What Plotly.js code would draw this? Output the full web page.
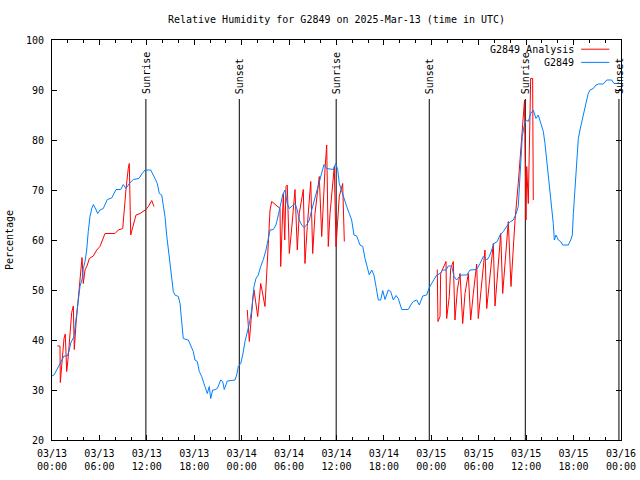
<!DOCTYPE html>
<html>
<head>
<meta charset="utf-8">
<script src="https://cdn.plot.ly/plotly-3.0.1.min.js"></script>
<style>html,body{margin:0;padding:0;background:#fff;}#chart{width:640px;height:480px;}</style>
</head>
<body>
<div id="chart"></div>
<script>
// Hours since 2025-03-13 00:00 UTC
const obsHours = [0.00,0.25,0.59,0.89,1.23,1.52,1.94,2.19,2.37,2.78,3.13,3.33,3.54,3.83,3.96,4.18,4.39,4.59,4.81,5.02,5.23,5.53,5.78,6.07,6.49,7.00,7.55,7.85,8.10,8.69,9.02,9.36,9.78,10.29,11.01,11.35,11.77,12.49,12.74,13.03,13.32,13.58,13.88,14.08,14.30,14.51,14.72,14.93,15.15,15.35,15.56,15.98,16.20,16.41,16.61,17.25,17.55,17.88,18.09,18.39,18.64,18.94,19.23,19.65,19.90,20.08,20.33,20.50,20.92,21.35,21.60,21.80,22.18,23.16,23.37,23.57,23.88,24.13,24.42,24.64,24.97,25.27,25.56,25.81,26.10,26.41,26.74,27.08,27.37,27.59,28.00,28.34,28.64,28.94,29.19,29.48,29.77,30.03,30.46,30.75,31.04,31.29,31.60,31.89,32.23,32.56,32.86,33.15,33.49,33.82,34.13,34.42,34.76,35.60,35.90,36.15,36.35,36.66,36.95,37.29,37.62,37.92,38.21,38.56,38.97,39.32,39.61,39.90,40.15,40.45,40.74,41.00,41.29,41.59,41.85,42.14,42.35,42.55,42.86,43.19,43.53,43.82,44.25,45.09,45.39,45.72,46.15,46.48,46.91,47.41,47.74,48.05,48.34,48.68,49.10,49.44,49.86,50.15,50.58,50.87,51.21,51.54,51.84,52.48,52.89,53.74,54.16,54.58,55.01,55.34,55.64,55.93,56.35,56.69,57.11,57.54,57.87,58.37,58.71,59.00,59.13,59.31,59.51,59.73,59.98,60.27,60.57,60.90,61.24,61.53,61.75,61.96,62.17,62.38,62.60,62.80,63.02,63.23,63.43,63.56,63.77,64.07,64.37,64.62,65.33,65.64,65.84,65.97,66.18,66.39,66.60,66.81,67.03,67.23,67.44,67.66,67.86,68.08,68.49,68.84,69.13,69.76,70.19,70.82,71.11,71.53,71.78];
const obsValues = [32.8,33,34,35,36,36.8,36.8,38,39.4,40.7,45.3,48.3,50.7,52.3,54.3,55.7,58,61.7,64.7,66.2,67.1,66.2,65.3,66,66.3,68.1,68.4,69.3,70.1,70.1,71.1,70.3,71.3,72.1,72.3,73.2,74,74,73.3,72.3,71.3,69.3,69,66.7,64.7,61,58,55.3,53,49.7,49,48.7,47.3,43.3,40.3,40,39,37.7,36,35.7,33.7,32.7,31.3,29.3,30.7,28.3,30,30,30.3,32,31.7,30.1,31.8,32,33,34.7,35.3,37,39.7,41,43.3,46,50.7,52.3,53,54.7,56.1,58,60,62,62.1,63,65,67.3,69,70,67.3,66.3,66.8,67.3,66,64,63,62.5,63,64,66,67.7,69.3,71.3,73.3,75.1,74.3,74.1,75.3,74.1,71.3,69.7,68.3,66.7,65.3,64,61,60.8,59,58.7,56.3,54.7,53,54,53,50.7,48,48,49.9,48.1,49,50,49.7,48,48.9,48.3,46.1,46.1,47,47.7,48,47,48.8,49,50.5,51.3,52,53,53.3,54,54,54.8,54.8,52.7,52,52.7,53,53,54,54.1,55.3,56.7,56,56.7,58,59.3,59.7,61,61.7,62.7,63.5,64,65.2,66.7,70.7,76.7,80.7,82.7,84,83.7,85.3,86,84.3,85,84,83,81.7,79.3,76,73.3,70.7,67.3,63.3,60,61,60,59.7,59,59,60,61,65.3,70.7,76.7,80.3,82,83.7,85.3,86.7,88,89.3,90,90.3,91,91.2,91.2,92,92,91.3,91.3,91.7];

// Analysis (null = gap between analysis windows)
const anaHours = [0.67,1.01,1.05,1.23,1.35,1.52,1.68,1.86,2.06,2.28,2.49,2.70,2.82,3.04,3.20,3.45,3.63,3.80,3.96,4.18,4.47,4.72,5.23,5.66,6.07,6.42,6.71,7.97,8.39,8.95,9.11,9.36,9.65,9.78,9.96,10.09,10.29,10.63,11.14,11.89,12.19,12.62,12.91,
  18.0,
  24.71,24.97,25.40,25.56,26.03,26.41,26.57,26.95,27.37,27.59,27.80,28.85,28.94,29.27,29.45,29.61,29.77,30.03,30.37,30.75,31.04,31.29,31.80,32.01,32.30,32.74,32.99,33.28,33.82,34.13,34.54,34.76,34.96,35.18,35.72,35.94,36.35,36.78,36.99,
  42.0,
  48.75,48.84,49.10,49.18,49.86,49.94,50.27,50.45,50.78,50.99,51.29,51.63,51.97,52.26,52.68,52.98,53.31,53.74,53.94,54.37,54.79,55.01,55.42,55.84,56.06,56.47,56.78,57.03,57.45,57.74,58.08,58.37,58.59,59.00,59.13,59.43,59.64,59.79,59.98,60.07,60.27,60.48,60.57,60.82,60.90];
const anaValues = [38.8,38.8,31.5,35.3,37.2,40.3,41.2,33.7,36.7,41.2,45.5,46.8,38.1,43.3,46.1,52,55,56.5,51.3,54,55,56.3,56.8,58,58.7,60.1,61.3,61.3,62,62.3,66,70.1,74.3,75.3,61,62,63,65,65.3,66.1,66.7,67.9,66.7,
  null,
  46,39.7,48,50,44.7,51.3,50,46.7,59.3,66,67.7,66.3,54.7,69.3,60,70.7,71,57.3,63,70.1,58,65.3,70.1,55.3,62.7,71.7,57.3,65.3,72.7,60.7,74,79,58.7,65.3,74.7,58.7,68.7,71.3,59.7,
  null,
  54.1,43.7,44.7,53.3,55.7,44.3,48.7,54.3,55.7,44,50,53.3,43.3,49.3,53.3,44,49.3,55.2,44.3,50.7,58,46.3,52.7,59.3,46.8,54.7,61.3,49.3,58.7,63.7,50.7,60,64,71.3,74,82,86,88,64,74.7,67.3,86,92.3,92.3,68];

const sunHours = [11.88, 23.70, 35.96, 47.74, 59.89, 71.74];
const sunLabels = ["Sunrise","Sunset","Sunrise","Sunset","Sunrise","Sunset"];

const tickHours = [0,6,12,18,24,30,36,42,48,54,60,66,72];
const tickLabels = ["03/13<br>00:00","03/13<br>06:00","03/13<br>12:00","03/13<br>18:00","03/14<br>00:00","03/14<br>06:00","03/14<br>12:00","03/14<br>18:00","03/15<br>00:00","03/15<br>06:00","03/15<br>12:00","03/15<br>18:00","03/16<br>00:00"];

const legendNames = ["G2849 Analysis", "G2849"];
const colors = ["#ff0000", "#0080ff"];

function toDate(h) {
  const ms = Date.UTC(2025, 2, 13) + Math.round(h * 3600000);
  return new Date(ms).toISOString().replace('T', ' ').replace('Z', '');
}

const FONT = {family: "DejaVu Sans Mono, Liberation Mono, monospace", size: 10, color: "#000"};

const traces = [
  {x: anaHours.map(toDate), y: anaValues, type: 'scatter', mode: 'lines', name: legendNames[0],
   line: {color: colors[0], width: 1}, connectgaps: false, showlegend: false},
  {x: obsHours.map(toDate), y: obsValues, type: 'scatter', mode: 'lines', name: legendNames[1],
   line: {color: colors[1], width: 1}, showlegend: false}
];

const shapes = sunHours.map(h => ({
  type: 'line', xref: 'x', yref: 'y', x0: toDate(h), x1: toDate(h), y0: 20, y1: 88.2,
  line: {color: '#000', width: 1}, layer: 'below'
}));
const annotations = sunHours.map((h, i) => ({
  xref: 'x', yref: 'y', x: toDate(h), y: 88.2, text: sunLabels[i], textangle: -90,
  showarrow: false, xanchor: 'center', yanchor: 'bottom', yshift: 3, font: FONT
}));

// manual gnuplot-style key (text left, sample right)
const legendY = [0.977, 0.944];
legendNames.forEach((n, i) => {
  annotations.push({xref: 'paper', yref: 'paper', x: 0.921, y: legendY[i], text: n, showarrow: false,
    xanchor: 'right', yanchor: 'middle', font: FONT});
  shapes.push({type: 'line', xref: 'paper', yref: 'paper', x0: 0.930, x1: 0.9795, y0: legendY[i], y1: legendY[i],
    line: {color: colors[i], width: 1}});
});

const layout = {
  width: 640, height: 480,
  margin: {l: 52, r: 19, t: 40, b: 40, pad: 0},
  paper_bgcolor: '#fff', plot_bgcolor: '#fff',
  font: FONT,
  showlegend: false,
  title: {text: "Relative Humidity for G2849 on 2025-Mar-13 (time in UTC)", font: FONT,
    x: 0.5, xref: 'paper', y: 1 - 19/480, yanchor: 'middle'},
  xaxis: {
    type: 'date', range: [toDate(0), toDate(72)],
    tickmode: 'array', tickvals: tickHours.map(toDate), ticktext: tickLabels,
    ticks: 'inside', ticklen: 5, tickcolor: '#000', tickwidth: 1,
    minor: {tickmode: 'linear', tick0: toDate(0), dtick: 7200000, ticks: 'inside', ticklen: 3, tickcolor: '#000', showgrid: false},
    showline: true, linecolor: '#000', linewidth: 1, mirror: 'allticks',
    showgrid: false, zeroline: false, tickfont: FONT, ticklabelstandoff: 4
  },
  yaxis: {
    range: [20, 100], tickmode: 'linear', tick0: 20, dtick: 10,
    ticks: 'inside', ticklen: 5, tickcolor: '#000', tickwidth: 1,
    showline: true, linecolor: '#000', linewidth: 1, mirror: 'allticks',
    showgrid: false, zeroline: false, tickfont: FONT, ticklabelstandoff: 5,
    title: {text: "Percentage", font: FONT, standoff: 10}
  },
  shapes: shapes,
  annotations: annotations
};

Plotly.newPlot('chart', traces, layout, {staticPlot: true, displayModeBar: false});
</script>
</body>
</html>
